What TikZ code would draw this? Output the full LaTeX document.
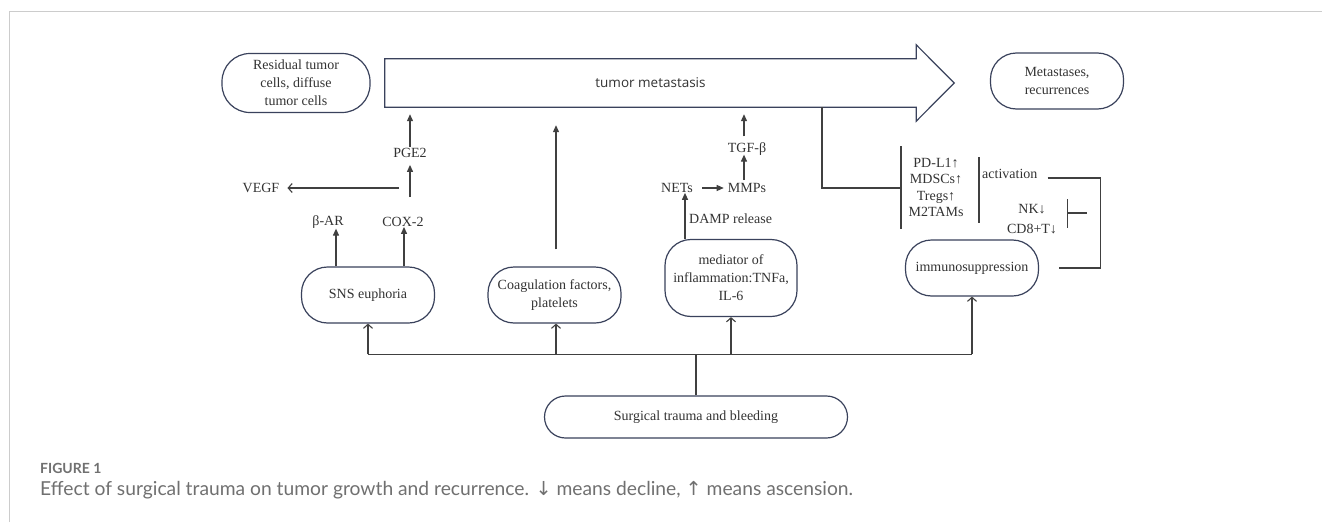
\documentclass[tikz,border=0pt]{standalone}
\usepackage{fontspec}
\usepackage{graphicx}
\setmainfont{Liberation Serif}
\newfontfamily\headfont{Open Sans}
\newfontfamily\capfont{Lato}
\newfontfamily\symfont{DejaVu Sans}
\usetikzlibrary{arrows.meta, positioning, calc}
\definecolor{edgegray}{RGB}{64, 64, 64}
\definecolor{boxblue}{RGB}{58, 66, 92}
\definecolor{textgray}{RGB}{51, 51, 51}
\definecolor{capgray}{RGB}{112, 112, 112}
\definecolor{framegray}{RGB}{204, 204, 204}

\begin{document}
\begin{tikzpicture}[x=1pt, y=-1pt,
  pill/.style={draw=boxblue, line width=1.2pt, rounded corners=26pt, minimum width=133pt, minimum height=56pt, inner sep=0pt, align=center, text=textgray, font=\fontsize{14}{18}\selectfont},
  lbl/.style={inner sep=1pt, text=textgray, font=\fontsize{14}{17}\selectfont},
  wire/.style={draw=edgegray, line width=1.1pt},
  fwd/.style={wire, -{Triangle[length=7pt, width=6pt]}},
  feed/.style={wire, -{Straight Barb[length=4pt, width=9pt]}}]
  \path[use as bounding box, fill=white] (0,0) rectangle (1322,522);
  \draw[framegray, line width=1pt] (9,522) -- (9,11) -- (1322,11);

  % Big arrow
  \node[minimum width=531pt, minimum height=48pt, inner sep=0pt, text=textgray, font=\headfont\fontsize{13.5}{16}\selectfont] (meta) at (650.5,83) {tumor metastasis};
  \draw[boxblue, line width=1.2pt] (meta.north west) -- (meta.north east) -- ++(0,-14) -- ($(meta.east)+(38,0)$) -- ($(meta.south east)+(0,14)$) -- (meta.south east) -- (meta.south west) -- cycle;

  % Boxes
  \node[pill, minimum width=148pt, minimum height=59pt, rounded corners=28pt] (resid) at (296,83) {Residual tumor\\cells, diffuse\\tumor cells};
  \node[pill] (metas) at (1057,81) {Metastases,\\recurrences};
  \node[pill] (sns) at (368,295) {SNS euphoria};
  \node[pill] (coag) at (554.5,295) {Coagulation factors,\\platelets};
  \node[pill, minimum width=132pt, minimum height=77pt] (medi) at (731,278) {mediator of\\inflammation:TNFa,\\IL-6};
  \node[pill] (immu) at (972,268) {immunosuppression};
  \node[pill, minimum width=303pt, minimum height=42pt, rounded corners=21pt] (surg) at (696,417) {Surgical trauma and bleeding};

  % Labels
  \node[lbl] (pge) at (410,153) {PGE2};
  \node[lbl] (vegf) at (261,188) {VEGF};
  \node[lbl] (bar) at (328,222) {β-AR};
  \node[lbl] (cox) at (403,222) {COX-2};
  \node[lbl] (nets) at (677,188) {NETs};
  \node[lbl] (mmps) at (747,188) {MMPs};
  \node[lbl] (tgf) at (747,149) {TGF-β};
  \node[lbl, anchor=west] (damp) at (688,219) {DAMP release};
  \node[lbl, align=center, font=\fontsize{14}{16.3}\selectfont] (cells) at (936,187.5) {PD-L1↑\\MDSCs↑\\Tregs↑\\M2TAMs};
  \node[lbl, anchor=west] (actv) at (981,174) {activation};
  \node[lbl, align=center, font=\fontsize{14}{20}\selectfont] (kill) at (1032,219) {NK↓\\CD8+T↓};

  % SNS branch
  \coordinate (fork) at (410,197);
  \coordinate (vstart) at (399,188);
  \draw[fwd, shorten >=7pt] (pge) -- (pge |- meta.south);
  \draw[fwd, shorten >=6pt] (fork) -- (pge);
  \draw[feed, shorten >=7pt] (vstart) -- (vegf);
  \draw[fwd] ($(sns.north)+(-32,0)$) -- ($(bar.south)+(8,-1)$);
  \draw[fwd] ($(sns.north)+(36,0)$) -- ($(cox.south)+(1,-1)$);

  % Coagulation branch
  \draw[fwd, shorten <=17pt, shorten >=18pt] ($(coag.north)+(1.5,0)$) -- ($(coag.north |- meta.south)+(1.5,0)$);

  % Inflammation branch
  \draw[fwd] ($(medi.north)+(-46,0)$) -- ($(nets.south)+(8,-1)$);
  \draw[fwd, shorten <=8pt, shorten >=3pt] (nets) -- (mmps);
  \draw[fwd] ($(mmps.north)+(-3,-2)$) -- ($(tgf.south)+(-3,-2)$);
  \draw[fwd, shorten <=5pt, shorten >=7pt] ($(tgf.north)+(-3,0)$) -- ($(tgf.north |- meta.south)+(-3,0)$);

  % Immune branch
  \coordinate (brace) at (901,188);
  \draw[wire] ($(meta.south)+(171.5,0)$) |- (brace);
  \draw[wire] (901,146) -- (901,229);
  \draw[wire] (979,157) -- (979,223);
  \draw[wire] ($(actv.east)+(9,4)$) -| ($(immu.east)+(61.5,0)$) -- ($(immu.east)+(19.5,0)$);
  \draw[wire, {Bar[width=29pt]}-] ($(kill.east)+(9,-6)$) -- ++(20,0);

  % Surgical trauma feeds
  \draw[wire] (surg.north) -- ++(0,-41) coordinate (hub);
  \draw[wire] (sns.south |- hub) -- (immu.south |- hub);
  \draw[feed] (sns.south |- hub) -- (sns.south);
  \draw[feed] ($(coag.south |- hub)+(1.5,0)$) -- ($(coag.south)+(1.5,0)$);
  \draw[feed] (medi.south |- hub) -- (medi.south);
  \draw[feed] (immu.south |- hub) -- (immu.south);

  % Caption
  \node[anchor=west, inner sep=0pt, text=capgray, font=\capfont\bfseries\fontsize{14}{16}\selectfont] (fig) at (40,468) {FIGURE 1};
  \node[anchor=west, inner sep=0pt, text=capgray, font=\capfont\fontsize{16}{19}\selectfont] (cap) at (40,490) {\resizebox{813pt}{!}{Effect of surgical trauma on tumor growth and recurrence. {\symfont ↓} means decline, {\symfont ↑} means ascension.}};
\end{tikzpicture}
\end{document}
